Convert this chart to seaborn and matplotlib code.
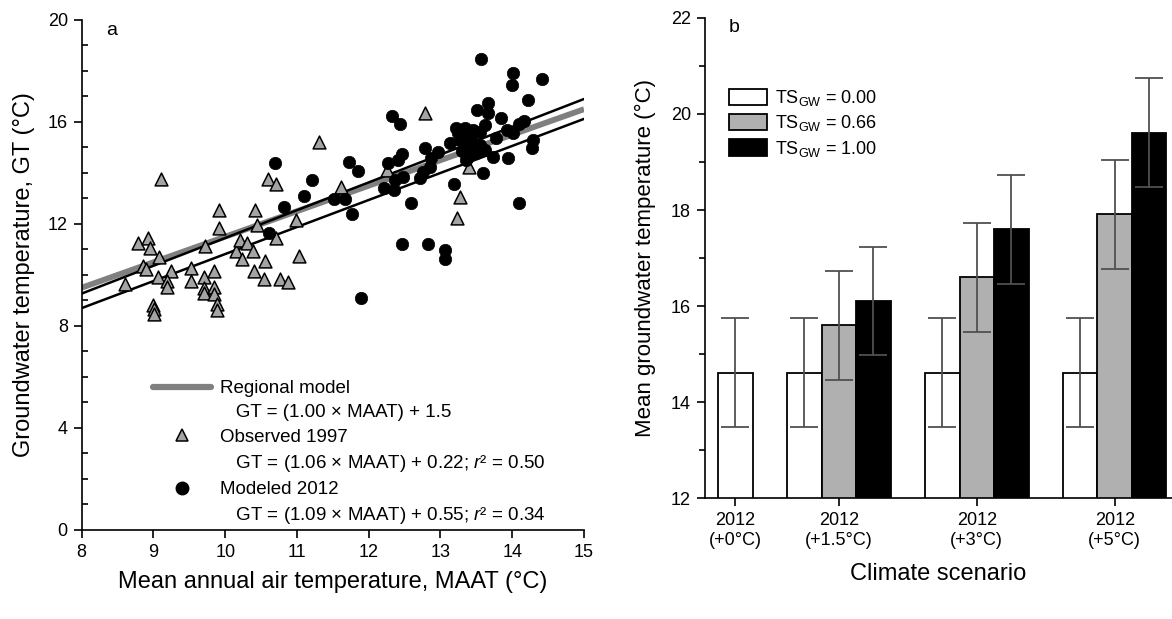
import numpy as np
import pandas as pd
import seaborn as sns
import matplotlib.pyplot as plt
from matplotlib.lines import Line2D
from matplotlib.patches import Patch
from matplotlib.ticker import MultipleLocator

# ---- panel a data ----
obs_maat = [9.10, 8.79, 8.93, 8.95, 9.08, 8.86, 8.90, 8.60, 9.06, 9.25, 9.19, 9.19,
            9.52, 9.53, 9.71, 9.72, 9.70, 9.70, 9.00, 9.01, 9.01, 9.91, 9.91, 9.85,
            9.85, 9.85, 9.88, 9.89, 10.15, 10.20, 10.31, 10.24, 10.39, 10.41, 10.44,
            10.40, 10.55, 10.54, 10.60, 10.71, 10.71, 10.76, 10.88, 10.98, 11.03,
            11.31, 11.62, 12.79, 12.25, 13.27, 13.23, 13.40]
obs_gt = [13.75, 11.24, 11.44, 11.05, 10.72, 10.36, 10.25, 9.63, 9.93, 10.16, 9.78, 9.54,
          10.26, 9.78, 9.93, 11.14, 9.50, 9.28, 8.82, 8.65, 8.46, 12.55, 11.83, 10.16,
          9.54, 9.25, 8.86, 8.63, 10.95, 11.37, 11.24, 10.64, 10.92, 12.55, 11.96,
          10.17, 10.56, 9.85, 13.75, 13.57, 11.44, 9.85, 9.74, 12.16, 10.75,
          15.23, 13.46, 16.37, 14.12, 13.07, 12.25, 14.25]

mod_maat = [10.69, 11.21, 11.10, 10.82, 10.61, 11.73, 11.85, 11.51, 11.67, 11.76, 11.89,
            12.33, 12.43, 13.21, 13.34, 13.13, 13.27, 12.46, 12.41, 12.27, 12.78, 12.97,
            12.87, 12.85, 12.76, 12.71, 12.48, 12.36, 12.35, 12.21, 13.36, 13.19, 12.59,
            12.47, 12.83, 13.06, 13.06,
            13.57, 14.01, 13.99, 14.41, 14.22, 13.66, 13.51, 13.66, 13.85, 14.17, 14.10,
            13.62, 13.34, 13.45, 13.92, 14.01, 13.78, 13.29, 13.55, 13.41, 13.62, 14.29,
            14.28, 13.38, 13.50, 13.73, 13.94, 13.59, 14.09,
            13.25, 13.42, 13.48, 13.30, 13.55]
mod_gt = [14.38, 13.73, 13.10, 12.68, 11.66, 14.41, 14.09, 12.98, 12.98, 12.39, 9.11,
          16.24, 15.91, 15.78, 15.69, 15.19, 15.29, 14.75, 14.51, 14.40, 14.97, 14.84,
          14.58, 14.22, 14.05, 13.79, 13.86, 13.73, 13.33, 13.40, 14.51, 13.57, 12.84,
          11.22, 11.22, 10.98, 10.61,
          18.46, 17.93, 17.45, 17.67, 16.86, 16.73, 16.47, 16.34, 16.14, 16.05, 15.92,
          15.88, 15.75, 15.69, 15.69, 15.56, 15.36, 15.29, 15.10, 15.03, 14.90, 15.29,
          14.97, 14.64, 14.77, 14.64, 14.58, 13.99, 12.81,
          15.55, 15.35, 14.95, 14.85, 15.60]

# fitted lines: GT = slope * MAAT + intercept
fit_names = ['Regional model', 'Observed 1997', 'Modeled 2012']
fit_slope = [1.00, 1.06, 1.09]
fit_icpt = [1.5, 0.22, 0.55]

# ---- panel b data ----
scenarios = ['2012\n(+0°C)', '2012\n(+1.5°C)', '2012\n(+3°C)', '2012\n(+5°C)']
ts_levels = ['0.00', '0.66', '1.00']
ts000_mean = [14.62, 14.62, 14.62, 14.62]
ts066_mean = [np.nan, 15.60, 16.60, 17.91]
ts100_mean = [np.nan, 16.11, 17.60, 19.61]
ts000_err = [1.13, 1.13, 1.13, 1.13]
ts066_err = [np.nan, 1.13, 1.13, 1.13]
ts100_err = [np.nan, 1.13, 1.13, 1.13]

sns.set_style('ticks')
plt.rcParams['font.family'] = ['Liberation Sans', 'DejaVu Sans']
plt.rcParams['mathtext.fontset'] = 'custom'
plt.rcParams['mathtext.rm'] = 'Liberation Sans'
plt.rcParams['mathtext.it'] = 'Liberation Sans:italic'
plt.rcParams['axes.linewidth'] = 1.2
for k in ['text.color', 'axes.labelcolor', 'xtick.color', 'ytick.color', 'axes.edgecolor']:
    plt.rcParams[k] = 'black'

fig = plt.figure(figsize=(11.72, 6.19), dpi=100)
axa = fig.add_axes([0.0697, 0.1438, 0.4286, 0.824])
axb = fig.add_axes([0.6015, 0.1947, 0.3985, 0.7765])

# ---------------- panel a ----------------
xs = np.array([8.0, 15.0])
line_style = [dict(color='#808080', lw=4.2, zorder=2, solid_capstyle='butt'),
              dict(color='black', lw=1.8, zorder=2.5),
              dict(color='black', lw=1.8, zorder=2.5)]
for s, b, st in zip(fit_slope, fit_icpt, line_style):
    axa.plot(xs, s * xs + b, **st)

sns.scatterplot(x=obs_maat, y=obs_gt, marker='^', color='#a4a4a4', edgecolor='black',
                linewidth=1.1, s=85, ax=axa, zorder=3)
sns.scatterplot(x=mod_maat, y=mod_gt, marker='o', color='black', edgecolor='black',
                linewidth=0.5, s=80, ax=axa, zorder=3)

axa.set_xlim(8, 15)
axa.set_ylim(0, 20)
axa.xaxis.set_major_locator(MultipleLocator(1))
axa.yaxis.set_major_locator(MultipleLocator(4))
axa.yaxis.set_minor_locator(MultipleLocator(1))
axa.tick_params(axis='both', which='major', direction='out', length=6, width=1.2,
                labelsize=13, pad=4)
axa.tick_params(axis='y', which='minor', direction='in', length=4, width=1.2)
axa.set_xlabel('Mean annual air temperature, MAAT (°C)', fontsize=17, labelpad=7)
axa.set_ylabel('Groundwater temperature, GT (°C)', fontsize=17, labelpad=9)
axa.text(0.048, 0.98, 'a', transform=axa.transAxes, fontsize=14, va='center')
sns.despine(ax=axa)

blank = Line2D([], [], color='none')
handles_a = [Line2D([], [], color='#808080', lw=4.5, solid_capstyle='round'), blank,
             Line2D([], [], marker='^', ls='none', mfc='#a4a4a4', mec='black', mew=1.1, ms=9),
             blank,
             Line2D([], [], marker='o', ls='none', mfc='black', mec='black', ms=9),
             blank]
labels_a = [fit_names[0], '   GT = (1.00 × MAAT) + 1.5',
            fit_names[1], '   GT = (1.06 × MAAT) + 0.22; $\\mathit{r}$² = 0.50',
            fit_names[2], '   GT = (1.09 × MAAT) + 0.55; $\\mathit{r}$² = 0.34']
axa.legend(handles_a, labels_a, loc='upper left', bbox_to_anchor=(0.1305, 0.386),
           bbox_transform=fig.transFigure, frameon=False, fontsize=13.5,
           handlelength=3.1, handletextpad=0.5, labelspacing=0.38,
           borderpad=0, borderaxespad=0)

# ---------------- panel b ----------------
group_start = [0, 2, 6, 10]
rows = []
tick_pos = []
for g, lab in enumerate(scenarios):
    present = []
    for k, (lvl, means, errs) in enumerate(zip(ts_levels, [ts000_mean, ts066_mean, ts100_mean],
                                                 [ts000_err, ts066_err, ts100_err])):
        if np.isnan(means[g]):
            continue
        pos = group_start[g] + k
        present.append(pos)
        rows.append(dict(pos=pos, gt=means[g], err=errs[g], ts=lvl))
    tick_pos.append(np.mean(present))
bars = pd.DataFrame(rows)

ts_colors = {'0.00': 'white', '0.66': '#b0b0b0', '1.00': 'black'}
sns.barplot(data=bars, x='pos', y='gt', hue='ts', palette=ts_colors, native_scale=True,
            dodge=False, width=1.0, errorbar=None, edgecolor='black', linewidth=1.3,
            legend=False, ax=axb)
axb.errorbar(bars['pos'], bars['gt'], yerr=bars['err'], fmt='none', ecolor='#505050',
             elinewidth=1.3, capsize=10, capthick=1.3, zorder=4)

axb.set_xlim(-0.88, 12.66)
axb.set_ylim(12, 22)
axb.set_xticks(tick_pos)
axb.set_xticklabels(scenarios)
axb.yaxis.set_major_locator(MultipleLocator(2))
axb.yaxis.set_minor_locator(MultipleLocator(1))
axb.tick_params(axis='both', which='major', direction='out', length=6, width=1.2,
                labelsize=13, pad=4)
axb.tick_params(axis='y', which='minor', direction='out', length=4, width=1.2)
axb.set_xlabel('Climate scenario', fontsize=17, labelpad=10)
axb.set_ylabel('Mean groundwater temperature (°C)', fontsize=16, labelpad=11)
axb.text(0.05, 0.979, 'b', transform=axb.transAxes, fontsize=14, va='center')
sns.despine(ax=axb)

handles_b = [Patch(facecolor=ts_colors[l], edgecolor='black', lw=1.3) for l in ts_levels]
labels_b = [r'TS$_{\mathrm{GW}}$ = ' + l for l in ts_levels]
axb.legend(handles_b, labels_b, loc='upper left', bbox_to_anchor=(0.622, 0.858),
           bbox_transform=fig.transFigure, frameon=False, fontsize=13,
           handlelength=2.1, handleheight=1.0, handletextpad=0.45, labelspacing=0.3,
           borderpad=0, borderaxespad=0)

fig.savefig('out.png', dpi=100)
